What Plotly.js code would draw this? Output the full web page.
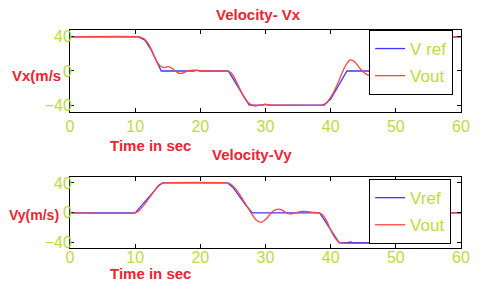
<!DOCTYPE html>
<html>
<head>
<meta charset="utf-8">
<script src="https://cdn.plot.ly/plotly-3.0.1.min.js"></script>
<style>html,body{margin:0;padding:0;background:#fff;}#chart{width:486px;height:283px;}</style>
</head>
<body>
<div id="chart"></div>
<script>
// ---- data ----
const vxRefTime = [0, 10.5, 11.5, 12.5, 13.5, 14, 19, 19.5, 20, 24.3, 25.5, 26.5, 27.5, 29.5, 30, 30.5, 39, 40, 41, 42, 42.5, 46, 47, 48, 49, 50, 60];
const vxRefVal  = [40, 40, 36, 24, 8, 0, 0, 1, 0, 0, -15, -28, -40, -40, -39, -40, -40, -33, -20, -6, 0, 0, 10, 25, 37, 40, 40];

const vxOutTime = [0, 10.5, 11, 11.5, 12, 12.5, 13, 13.5, 14, 14.5, 15, 15.5, 16, 16.5, 17, 17.5, 18, 19, 20, 21, 22, 23, 24, 24.5, 25, 25.5, 26, 26.5, 27, 27.5, 28, 28.5, 29, 30, 31, 32, 38.5, 39, 39.5, 40, 40.5, 41, 41.5, 42, 42.5, 43, 43.5, 44, 44.5, 45, 45.5, 46, 47, 48, 49, 50, 51, 52, 53, 60];
const vxOutVal  = [40, 40, 39, 37, 32, 25, 16, 9, 5, 4, 5, 4, 1, -2, -3, -2, 0, 1, 0, 0.5, 0, 0, 0, -1, -5, -12, -20, -28, -34, -38, -40, -41, -40, -39.5, -40, -40, -40, -39, -36, -31, -24, -16, -7, 2, 9, 13, 12, 8, 3, -1, -4, -5, -3, 2, 14, 28, 38, 42, 40, 40];

const vyRefTime = [0, 10, 11, 12, 13, 13.6, 14.2, 24.2, 25, 26, 27, 28, 38.3, 39.3, 40.3, 41.3, 42.5, 43, 43.5, 44, 53, 54, 55, 56, 60];
const vyRefVal  = [0, 0, 10, 20, 30, 36, 40, 40, 34, 22, 10, 0, 0, -13, -27, -40, -40, -39, -40, -40, -40, -28, -14, 0, 0];

const vyOutTime = [0, 10, 10.5, 11, 11.5, 12, 12.5, 13, 13.5, 14, 14.5, 24, 24.5, 25, 25.5, 26, 26.5, 27, 27.5, 28, 28.5, 29, 29.5, 30, 30.5, 31, 31.5, 32, 32.5, 33, 33.5, 34, 34.5, 35, 35.5, 36, 36.5, 37, 37.5, 38, 38.5, 39, 39.5, 40, 40.5, 41, 41.5, 42, 53, 53.5, 54, 54.5, 55, 55.5, 56, 57, 58, 60];
const vyOutVal  = [0, 0, 2, 7, 12, 18, 24, 30, 36, 39, 40, 40, 39, 36, 31, 25, 18, 11, 4, -3, -9, -12, -12, -9, -4, 1, 4, 5, 4, 1, -1, -1.5, -0.5, 1, 2, 2, 1.5, 1, 0.5, 0, -1, -5, -13, -23, -31, -37, -40, -40.5, -40, -38, -33, -26, -18, -10, -3, 1, 0, 0];

const xTicks = [0, 10, 20, 30, 40, 50, 60];
const yTicks = [-40, 0, 40];
const legendNamesTop = ['V ref', 'Vout'];
const legendNamesBottom = ['Vref', 'Vout'];

const titleTop = 'Velocity- Vx';
const titleBottom = 'Velocity-Vy';
const xLabel = 'Time in sec';
const yLabelTop = 'Vx(m/s';
const yLabelBottom = 'Vy(m/s)';

// ---- styles ----
const blue = '#3a3aff';
const red = '#ff4444';
const tickGreen = 'rgb(190,218,60)';
const labelRed = 'rgb(236,36,50)';
const fontFam = 'Liberation Sans, Arial, sans-serif';

const traces = [
  {x: vxRefTime, y: vxRefVal, name: legendNamesTop[0], mode: 'lines', line: {color: blue, width: 1.3}, xaxis: 'x', yaxis: 'y', legend: 'legend', legendgroup: 'a'},
  {x: vxOutTime, y: vxOutVal, name: legendNamesTop[1], mode: 'lines', line: {color: red, width: 1.3, shape: 'spline', smoothing: 0.6}, xaxis: 'x', yaxis: 'y', legend: 'legend', legendgroup: 'b'},
  {x: vyRefTime, y: vyRefVal, name: legendNamesBottom[0], mode: 'lines', line: {color: blue, width: 1.3}, xaxis: 'x2', yaxis: 'y2', legend: 'legend2', legendgroup: 'c'},
  {x: vyOutTime, y: vyOutVal, name: legendNamesBottom[1], mode: 'lines', line: {color: red, width: 1.3, shape: 'spline', smoothing: 0.6}, xaxis: 'x2', yaxis: 'y2', legend: 'legend2', legendgroup: 'd'}
];

const xAxisBase = {
  range: [0, 60], tickvals: xTicks, ticks: 'inside', ticklen: 4, tickcolor: '#000',
  showline: true, linecolor: '#000', linewidth: 1, mirror: 'ticks',
  showgrid: false, zeroline: false,
  tickfont: {family: fontFam, size: 16, color: tickGreen}
};
const yAxisBase = {
  tickvals: yTicks, ticks: 'inside', ticklen: 4, tickcolor: '#000',
  showline: true, linecolor: '#000', linewidth: 1, mirror: 'ticks',
  showgrid: false, zeroline: false,
  tickfont: {family: fontFam, size: 16, color: tickGreen},
  ticklabelstandoff: -6
};

const legendBase = {
  xref: 'paper', yref: 'paper', xanchor: 'left', yanchor: 'top',
  bgcolor: '#fff', bordercolor: '#000', borderwidth: 1,
  font: {family: fontFam, size: 17, color: tickGreen},
  tracegroupgap: 2, itemwidth: 30
};

function ann(text, x, y, size) {
  return {text: text, x: x, y: y, xref: 'paper', yref: 'paper', xanchor: 'center', yanchor: 'middle',
          showarrow: false, font: {family: fontFam, size: size, color: labelRed, weight: 'bold'}};
}

const layout = {
  width: 486, height: 283,
  margin: {l: 70, r: 25, t: 30, b: 35},
  paper_bgcolor: '#fff', plot_bgcolor: '#fff',
  showlegend: true,
  xaxis: Object.assign({}, xAxisBase, {domain: [0, 1], anchor: 'y', ticklabelstandoff: 0}),
  yaxis: Object.assign({}, yAxisBase, {domain: [0.624, 1], range: [-48, 48], anchor: 'x'}),
  xaxis2: Object.assign({}, xAxisBase, {domain: [0, 1], anchor: 'y2', ticklabelstandoff: -5}),
  yaxis2: Object.assign({}, yAxisBase, {domain: [0, 0.326], range: [-47, 48], anchor: 'x2'}),
  legend: Object.assign({}, legendBase, {x: 0.765, y: 1}),
  legend2: Object.assign({}, legendBase, {x: 0.765, y: 0.316}),
  annotations: [
    ann(titleTop, 0.483, 1.073, 15),
    ann(xLabel, 0.205, 0.470, 15),
    ann(yLabelTop, -0.086, 0.789, 15),
    ann(titleBottom, 0.465, 0.427, 15),
    ann(xLabel, 0.205, -0.118, 15),
    ann(yLabelBottom, -0.092, 0.151, 14)
  ]
};

Plotly.newPlot('chart', traces, layout, {displayModeBar: false, staticPlot: true});
</script>
</body>
</html>
